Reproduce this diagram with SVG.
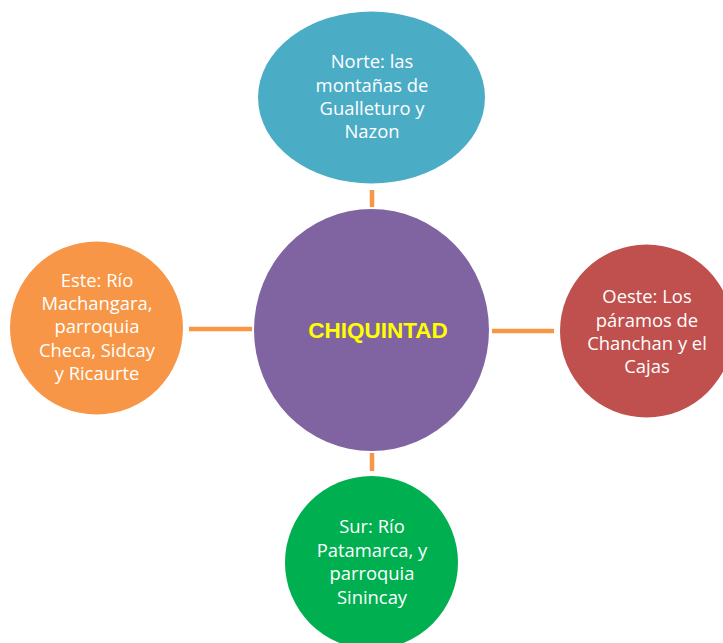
<svg xmlns="http://www.w3.org/2000/svg" width="723" height="643" viewBox="0 0 723 643">
<style>
.lbl{font-family:"Open Sans","Liberation Sans",sans-serif;font-size:18.4px;fill:#ffffff;text-anchor:middle}
.main{font-family:"Liberation Sans","Open Sans",sans-serif;font-size:22.5px;font-weight:bold;fill:#ffff00;text-anchor:middle}
.conn line{stroke:#f79646;stroke-width:4.5}
</style>
<rect width="723" height="643" fill="#ffffff"/>
<g id="connectors" class="conn">
<line x1="372" y1="190" x2="372" y2="207"/>
<line x1="189" y1="329" x2="252" y2="329"/>
<line x1="492" y1="331" x2="554" y2="331"/>
<line x1="372" y1="453" x2="372" y2="471"/>
</g>
<g id="center">
<ellipse cx="371.5" cy="330" rx="117.5" ry="121" fill="#8064a2"/>
<text class="main" x="378" y="338">CHIQUINTAD</text>
</g>
<g id="norte">
<ellipse cx="371.5" cy="97.5" rx="113.5" ry="86" fill="#4bacc6"/>
<text class="lbl" x="372"><tspan x="372" y="68">Norte: las</tspan><tspan x="372" y="92">montañas de</tspan><tspan x="372" y="115">Gualleturo y</tspan><tspan x="372" y="138">Nazon</tspan></text>
</g>
<g id="este">
<circle cx="96.5" cy="328" r="86.5" fill="#f79646"/>
<text class="lbl"><tspan x="97" y="287">Este: Río</tspan><tspan x="97" y="310">Machangara,</tspan><tspan x="97" y="333">parroquia</tspan><tspan x="97" y="357">Checa, Sidcay</tspan><tspan x="97" y="380">y Ricaurte</tspan></text>
</g>
<g id="oeste">
<circle cx="646.5" cy="331" r="86.5" fill="#c0504d"/>
<text class="lbl"><tspan x="647" y="303">Oeste: Los</tspan><tspan x="647" y="327">páramos de</tspan><tspan x="647" y="350">Chanchan y el</tspan><tspan x="647" y="373">Cajas</tspan></text>
</g>
<g id="sur">
<circle cx="371.5" cy="562.5" r="86.5" fill="#00b050"/>
<text class="lbl"><tspan x="372" y="533">Sur: Río</tspan><tspan x="372" y="557">Patamarca, y</tspan><tspan x="372" y="580">parroquia</tspan><tspan x="372" y="604">Sinincay</tspan></text>
</g>
</svg>
